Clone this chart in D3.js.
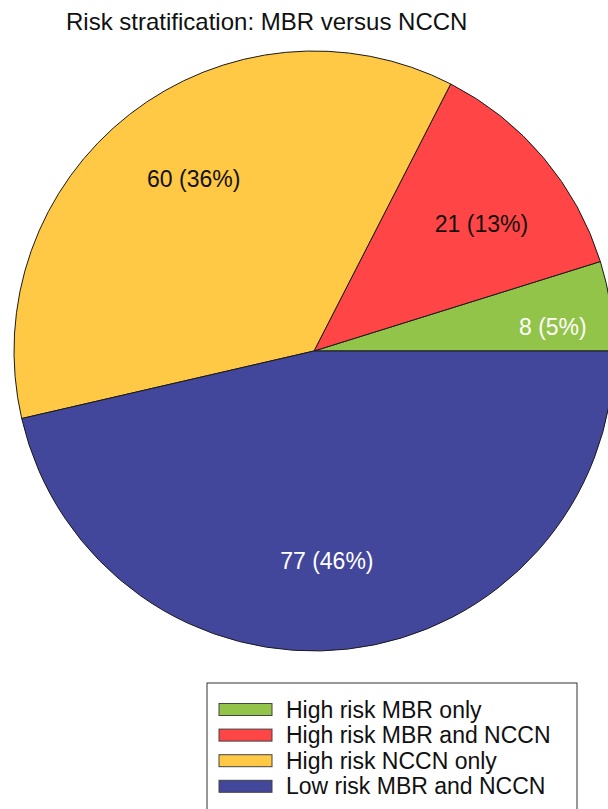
<!DOCTYPE html>
<html>
<head>
<meta charset="utf-8">
<script src="https://cdn.jsdelivr.net/npm/d3@7"></script>
<style>
  html, body { margin: 0; padding: 0; background: #fff; }
  text { font-family: "Liberation Sans", Arial, sans-serif; }
</style>
</head>
<body>
<svg id="chart" width="608" height="809"></svg>
<script>
// Risk groups, counts and colours
const categories = ["High risk MBR only", "High risk MBR and NCCN", "High risk NCCN only", "Low risk MBR and NCCN"];
const counts = [8, 21, 60, 77];
const percents = [5, 13, 36, 46];
const colors = ["#92c44a", "#ff4545", "#ffc845", "#43479c"];
const labelColors = ["#ffffff", "#111111", "#111111", "#ffffff"];
const title = "Risk stratification: MBR versus NCCN";

const svg = d3.select("#chart");
const cx = 314, cy = 351, R = 300;

svg.append("text")
  .attr("x", 66).attr("y", 30)
  .attr("font-size", 24)
  .attr("fill", "#111")
  .text(title);

// Slices start at 3 o'clock and run counter-clockwise
const pie = d3.pie().sort(null)
  .startAngle(Math.PI / 2)
  .endAngle(Math.PI / 2 - 2 * Math.PI);
const arcs = pie(counts);
const arc = d3.arc().innerRadius(0).outerRadius(R);

const g = svg.append("g").attr("transform", `translate(${cx},${cy})`);
g.selectAll("path.slice")
  .data(arcs)
  .join("path")
  .attr("class", "slice")
  .attr("d", arc)
  .attr("fill", (d, i) => colors[i])
  .attr("stroke", "#1a1a1a")
  .attr("stroke-width", 1);

// Value labels sit a little clockwise of each slice's middle;
// narrow slices get their label nudged toward the rim
const tilt = 3 * Math.PI / 180;
g.selectAll("text.val")
  .data(arcs)
  .join("text")
  .attr("class", "val")
  .attr("transform", d => {
    const span = Math.abs(d.endAngle - d.startAngle);
    const lr = span < 0.5 ? R * 0.8 : R * 0.7;
    const a = (d.startAngle + d.endAngle) / 2 + tilt;
    return `translate(${lr * Math.sin(a)},${-lr * Math.cos(a)})`;
  })
  .attr("dy", "0.35em")
  .attr("text-anchor", "middle")
  .attr("font-size", 23)
  .attr("fill", (d, i) => labelColors[i])
  .text((d, i) => `${counts[i]} (${percents[i]}%)`);

// Legend
const lg = svg.append("g").attr("transform", "translate(207,683)");
lg.append("rect")
  .attr("x", 0).attr("y", 0)
  .attr("width", 370).attr("height", 140)
  .attr("fill", "#fff")
  .attr("stroke", "#333")
  .attr("stroke-width", 1);
const rows = lg.selectAll("g.row")
  .data(categories)
  .join("g")
  .attr("class", "row")
  .attr("transform", (d, i) => `translate(0,${26.5 + i * 25.6})`);
rows.append("rect")
  .attr("x", 12).attr("y", -6)
  .attr("width", 53).attr("height", 12)
  .attr("fill", (d, i) => colors[i])
  .attr("stroke", "#444")
  .attr("stroke-width", 1);
rows.append("text")
  .attr("x", 79).attr("y", 0)
  .attr("dy", "0.35em")
  .attr("font-size", 23)
  .attr("fill", "#111")
  .text(d => d);
</script>
</body>
</html>
